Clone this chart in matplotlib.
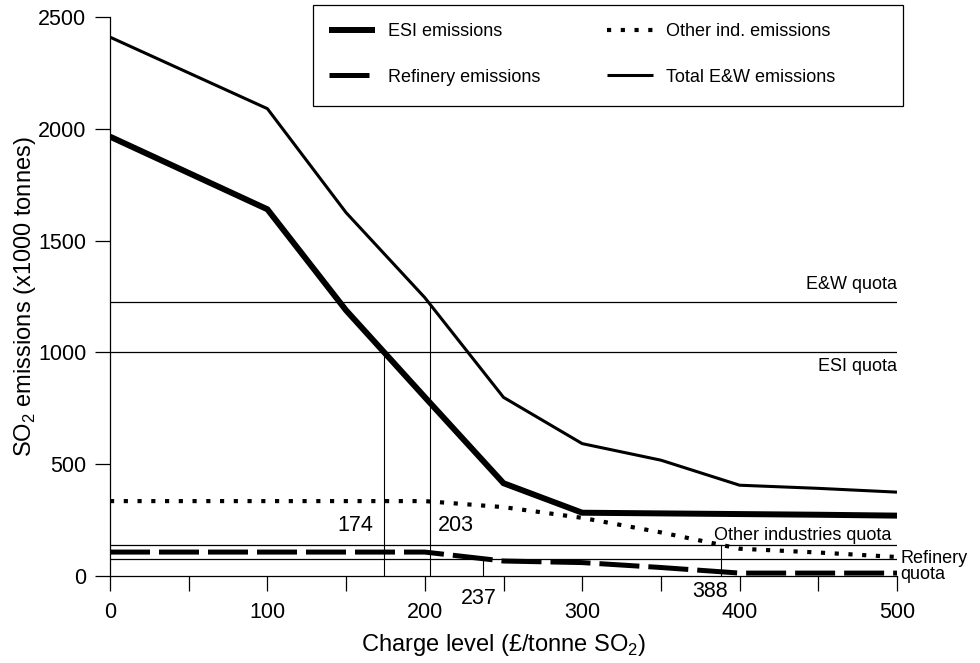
import matplotlib
matplotlib.use("Agg")
import matplotlib.pyplot as plt
from matplotlib.patches import Rectangle
from matplotlib.ticker import MultipleLocator

plt.rcParams['font.family'] = ['Liberation Sans', 'DejaVu Sans']

# ---- data ----
charge = [0, 100, 150, 200, 250, 300, 350, 400, 450, 500]
esi = [1965, 1640, 1188, 800, 415, 283, 280, 277, 274, 270]
other = [335, 335, 335, 335, 308, 260, 195, 122, 105, 85]
refinery = [107, 107, 107, 107, 67, 60, 38, 13, 13, 13]
total = [2410, 2090, 1625, 1245, 799, 592, 518, 406, 392, 375]

quota_ew = 1225
quota_esi = 1000
quota_other = 138
quota_ref = 76
cross_esi = 174
cross_ew = 203
cross_ref = 237
cross_other = 388

series_labels = ["ESI emissions", "Refinery emissions",
                 "Other ind. emissions", "Total E&W emissions"]

fig = plt.figure(figsize=(9.8, 6.63), dpi=100)
ax = fig.add_axes([110/980, 1-576/663, 787/980, 559/663])

# quota lines
for q in (quota_ew, quota_esi, quota_other, quota_ref):
    ax.plot([0, 500], [q, q], color='black', lw=0.9, zorder=2)
for cx, q in ((cross_esi, quota_esi), (cross_ew, quota_ew),
              (cross_ref, quota_ref), (cross_other, quota_other)):
    ax.plot([cx, cx], [0, q], color='black', lw=0.8, zorder=2)

l_esi, = ax.plot(charge, esi, color='black', lw=4.3, solid_capstyle='butt',
                 solid_joinstyle='miter', zorder=4)
l_ref, = ax.plot(charge, refinery, color='black', lw=3.6,
                 dashes=(8, 1.8), dash_capstyle='butt', zorder=4)
l_oth, = ax.plot(charge, other, color='black', lw=3.0,
                 dashes=(1.0, 2.3), dash_capstyle='butt', zorder=4)
l_tot, = ax.plot(charge, total, color='black', lw=2.2, solid_capstyle='butt',
                 zorder=4)

ax.set_xlim(0, 500)
ax.set_ylim(0, 2500)
for s in ('top', 'right'):
    ax.spines[s].set_visible(False)
for s in ('left', 'bottom'):
    ax.spines[s].set_linewidth(0.9)

ax.xaxis.set_major_locator(MultipleLocator(100))
ax.xaxis.set_minor_locator(MultipleLocator(50))
ax.yaxis.set_major_locator(MultipleLocator(500))
ax.tick_params(axis='both', which='both', direction='out', length=11,
               width=0.9, labelsize=15.5)
ax.tick_params(axis='x', which='both', pad=8)
ax.tick_params(axis='y', which='both', pad=6)

ax.set_xlabel("Charge level (£/tonne SO$_\\mathregular{2}$)", fontsize=17,
              labelpad=6)
ax.set_ylabel("SO$_\\mathregular{2}$ emissions (x1000 tonnes)", fontsize=17,
              labelpad=0)

# annotations
ax.text(500, quota_ew + 40, "E&W quota", ha='right', va='bottom', fontsize=13)
ax.text(500, quota_esi - 25, "ESI quota", ha='right', va='top', fontsize=13)
ax.text(cross_esi - 7, 224, str(cross_esi), ha='right', va='center', fontsize=15.5)
ax.text(cross_ew + 5, 224, str(cross_ew), ha='left', va='center', fontsize=15.5)
ax.text(234, -100, str(cross_ref), ha='center', va='center', fontsize=15.5)
ax.text(381, -70, str(cross_other), ha='center', va='center', fontsize=15.5)
ax.text(384, 183, "Other industries quota", ha='left', va='center', fontsize=13)
ax.text(502, 42, "Refinery\nquota", ha='left', va='center', fontsize=13,
        linespacing=0.95)

# legend
leg = fig.legend([l_esi, l_ref, l_oth, l_tot], series_labels, ncol=2,
                 loc='upper left', bbox_to_anchor=(329/980, 1-23/663),
                 bbox_transform=fig.transFigure, frameon=False, fontsize=13,
                 borderpad=0, borderaxespad=0, handlelength=2.55,
                 handletextpad=0.72, columnspacing=3.7, labelspacing=1.58)
fig.patches.append(Rectangle((313/980, 1-106/663), 590/980, 101/663,
                             transform=fig.transFigure, fill=False,
                             edgecolor='black', lw=0.9))

fig.savefig("out.png", dpi=100)
